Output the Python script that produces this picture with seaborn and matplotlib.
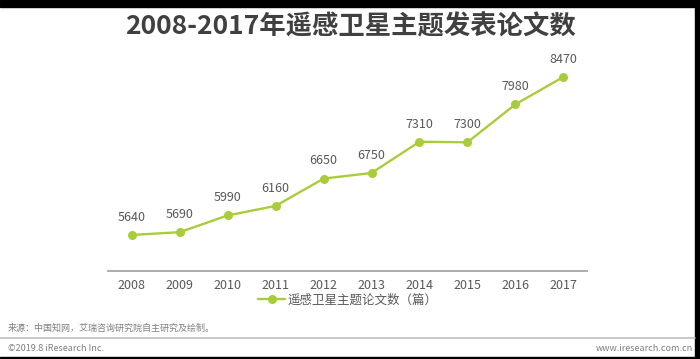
import pandas as pd
import matplotlib.pyplot as plt
import seaborn as sns
from matplotlib.lines import Line2D

years = ['2008', '2009', '2010', '2011', '2012', '2013', '2014', '2015', '2016', '2017']
papers = [5640, 5690, 5990, 6160, 6650, 6750, 7310, 7300, 7980, 8470]
series_name = '遥感卫星主题论文数（篇）'

df = pd.DataFrame({'year': years, 'papers': papers})

sns.set_style('white')
plt.rcParams['font.family'] = ['Noto Sans CJK SC', 'DejaVu Sans']

green = '#a9cd3a'
text_gray = '#595959'

fig = plt.figure(figsize=(7, 3.59), dpi=100)
ax = fig.add_axes([0.154, 0.246, 0.685, 0.622])

sns.lineplot(data=df, x='year', y='papers', ax=ax, color=green, linewidth=1.7,
             marker='o', markersize=6.5, markeredgewidth=0, sort=False)

for i, v in enumerate(papers):
    ax.annotate(str(v), (i, v), xytext=(0, 8), textcoords='offset points',
                ha='center', va='bottom', fontsize=9, color=text_gray)

ax.set_xlim(-0.5, len(years) - 0.5)
ax.set_ylim(5000, 9000)
ax.set_yticks([])
ax.set_xlabel('')
ax.set_ylabel('')
ax.tick_params(axis='x', length=0, labelsize=9, labelcolor=text_gray, pad=6)
for s in ['top', 'left', 'right']:
    ax.spines[s].set_visible(False)
ax.spines['bottom'].set_color('#a6a6a6')
ax.spines['bottom'].set_linewidth(1.3)

handle = Line2D([], [], color=green, linewidth=1.7, marker='o', markersize=6.5, markeredgewidth=0)
fig.legend([handle], [series_name], loc='center', bbox_to_anchor=(0.497, 0.164),
           frameon=False, fontsize=9, handlelength=2.2, handletextpad=0.2,
           labelcolor=text_gray)

fig.text(0.5, 0.926, '2008-2017年遥感卫星主题发表论文数', ha='center', va='center',
         fontsize=19, fontweight='bold', color='#404040')

fig.text(0.011, 0.087, '来源：中国知网，艾瑞咨询研究院自主研究及绘制。', ha='left', va='center',
         fontsize=6.5, color='#7f7f7f')
fig.add_artist(Line2D([0, 0.993], [0.058, 0.058], color='#bfbfbf', linewidth=1.2))
fig.text(0.011, 0.030, '©2019.8 iResearch Inc.', ha='left', va='center',
         fontsize=6.5, color='#7f7f7f')
fig.text(0.99, 0.030, 'www.iresearch.com.cn', ha='right', va='center',
         fontsize=6.5, color='#7f7f7f')

# black frame seen at the top, right and bottom edges
fig.add_artist(plt.Rectangle((0, 0.981), 1, 0.019, color='black', transform=fig.transFigure))
fig.add_artist(plt.Rectangle((0.993, 0), 0.007, 1, color='black', transform=fig.transFigure))
fig.add_artist(plt.Rectangle((0, 0), 1, 0.006, color='black', transform=fig.transFigure))

fig.savefig('out.png', dpi=100)
